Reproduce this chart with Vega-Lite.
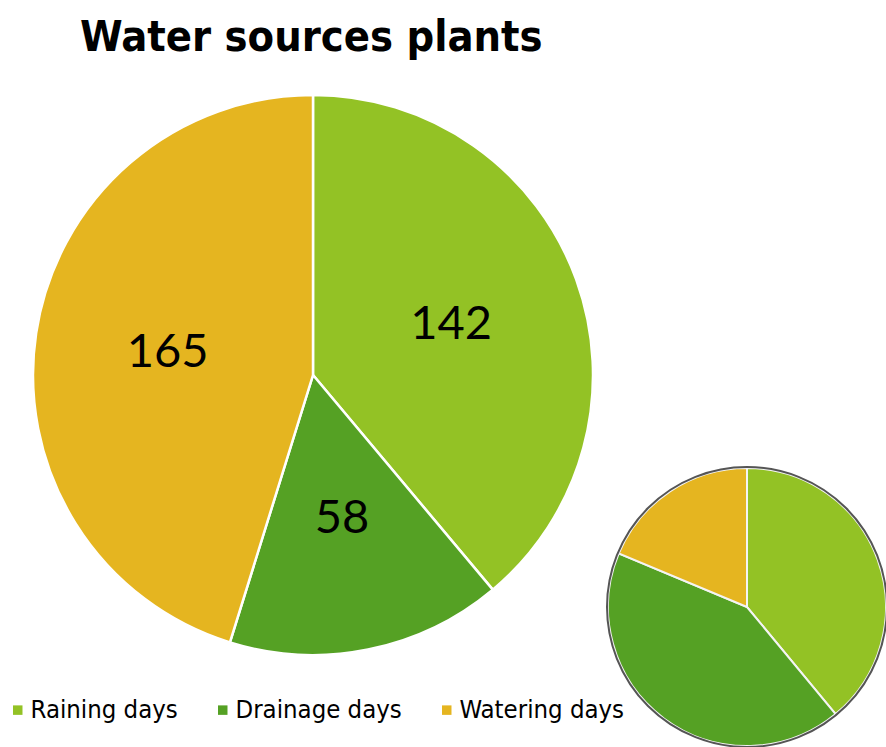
{
  "$schema": "https://vega.github.io/schema/vega-lite/v6.json",
  "width": 886,
  "height": 747,
  "padding": 0,
  "autosize": "none",
  "background": "white",
  "title": {"text": "Water sources plants", "anchor": "start", "dx": 80, "offset": -60, "font": "DejaVu Sans Condensed", "fontSize": 43, "fontWeight": "bold", "color": "black"},
  "datasets": {
    "main": [
      {"category": "Raining days", "idx": 1, "days": 142},
      {"category": "Drainage days", "idx": 2, "days": 58},
      {"category": "Watering days", "idx": 3, "days": 165}
    ],
    "detail": [
      {"category": "Raining days", "idx": 1, "share": 39},
      {"category": "Drainage days", "idx": 2, "share": 42.3},
      {"category": "Watering days", "idx": 3, "share": 18.7}
    ]
  },
  "config": {"view": {"stroke": null}},
  "resolve": {"scale": {"theta": "independent"}},
  "layer": [
    {
      "data": {"name": "main"},
      "mark": {"type": "arc", "x": 313, "y": 375, "outerRadius": 280, "stroke": "white", "strokeWidth": 2.5},
      "encoding": {
        "theta": {"field": "days", "type": "quantitative", "stack": true},
        "order": {"field": "idx", "type": "quantitative"},
        "color": {
          "field": "category", "type": "nominal",
          "sort": ["Raining days", "Drainage days", "Watering days"],
          "scale": {"domain": ["Raining days", "Drainage days", "Watering days"], "range": ["#93C225", "#55A124", "#E5B520"]},
          "legend": {"title": null, "orient": "none", "direction": "horizontal", "legendX": 5, "legendY": 697, "symbolType": "square", "symbolSize": 90, "symbolStrokeWidth": 0, "labelFont": "DejaVu Sans Condensed", "labelFontSize": 25.5, "labelLimit": 0, "labelColor": "black", "labelOffset": 0, "columnPadding": 32, "symbolOpacity": 1}
        }
      }
    },
    {
      "data": {"name": "main"},
      "mark": {"type": "text", "x": 313, "y": 375, "radius": 147, "font": "Lato", "fontSize": 47, "color": "black"},
      "encoding": {
        "theta": {"field": "days", "type": "quantitative", "stack": true},
        "order": {"field": "idx", "type": "quantitative"},
        "text": {"field": "days", "type": "quantitative"}
      }
    },
    {
      "data": {"name": "detail"},
      "mark": {"type": "arc", "x": 747, "y": 607, "outerRadius": 139, "stroke": "#f4f4f4", "strokeWidth": 2},
      "encoding": {
        "theta": {"field": "share", "type": "quantitative", "stack": true},
        "order": {"field": "idx", "type": "quantitative"},
        "color": {"field": "category", "type": "nominal", "sort": ["Raining days", "Drainage days", "Watering days"]}
      }
    },
    {
      "data": {"values": [{"ring": "outline"}]},
      "mark": {"type": "arc", "x": 747, "y": 607, "outerRadius": 140, "theta": 0, "theta2": 6.2832, "fill": null, "filled": false, "stroke": "#555555", "strokeWidth": 2},
      "encoding": {}
    }
  ]
}
